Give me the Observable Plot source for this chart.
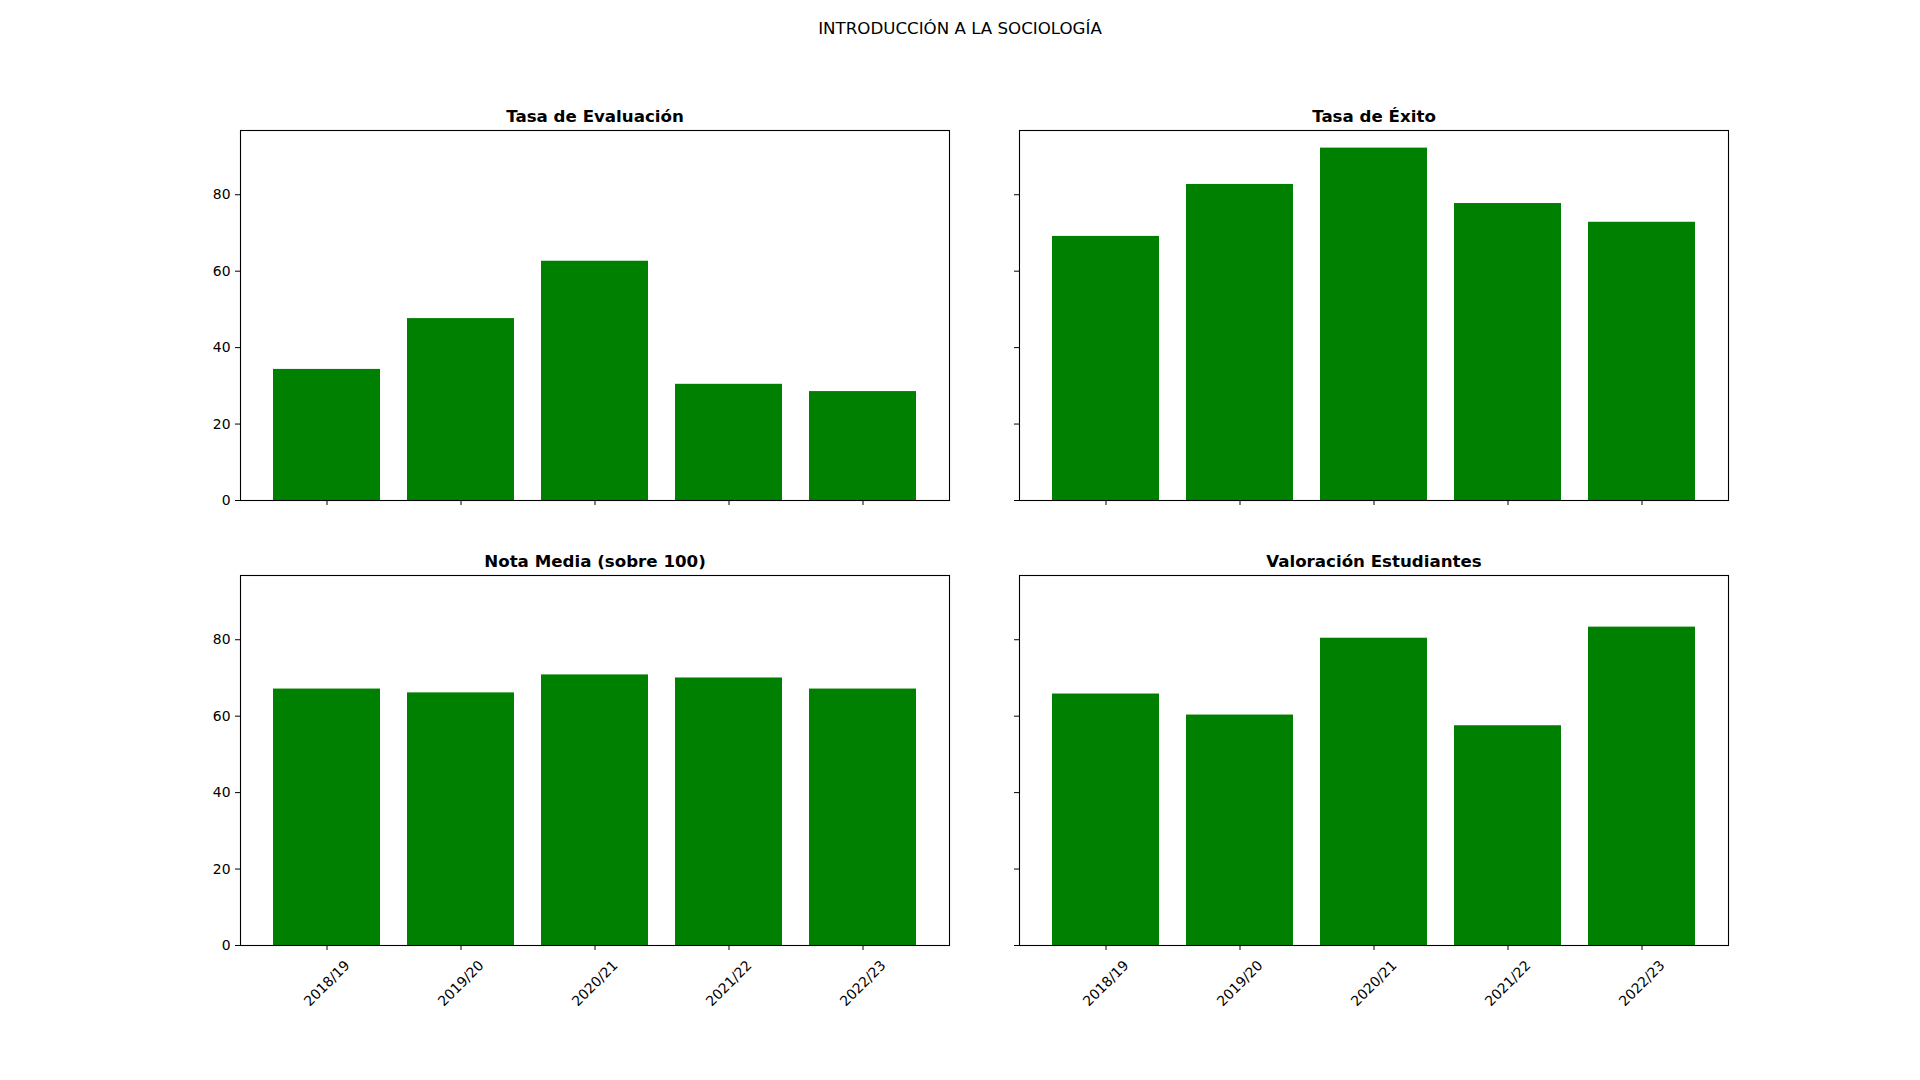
<!DOCTYPE html>
<html>
<head>
<meta charset="utf-8">
<script src="https://cdn.jsdelivr.net/npm/d3@7"></script>
<script src="https://cdn.jsdelivr.net/npm/@observablehq/plot@0.6"></script>
<style>
  html, body { margin: 0; padding: 0; background: #fff; }
  #fig { position: relative; width: 1920px; height: 1080px; background: #fff; font-family: "DejaVu Sans", sans-serif; overflow: hidden; }
  #suptitle { position: absolute; left: 0; top: 19px; width: 1920px; text-align: center; font-size: 16.67px; line-height: 20px; color: #000; }
  .panel { position: absolute; }
</style>
</head>
<body>
<div id="fig">
  <div id="suptitle">INTRODUCCIÓN A LA SOCIOLOGÍA</div>
</div>
<script>
const years = ["2018/19", "2019/20", "2020/21", "2021/22", "2022/23"];
const tasaEvaluacion = [34.3, 47.6, 62.6, 30.4, 28.5];
const tasaExito = [69.1, 82.7, 92.2, 77.7, 72.8];
const notaMedia = [67.1, 66.1, 70.8, 70.0, 67.1];
const valoracion = [65.8, 60.3, 80.4, 57.5, 83.3];
const panelTitles = ["Tasa de Evaluación", "Tasa de Éxito", "Nota Media (sobre 100)", "Valoración Estudiantes"];
const yTicks = [0, 20, 40, 60, 80];

const series = [tasaEvaluacion, tasaExito, notaMedia, valoracion];
const yMax = d3.max(series.flat()) * 1.05;

const AX_W = 709, AX_H = 370;
const ML = 70, MR = 20, MT = 40, MB = 100;
const layout = [
  {left: 240, top: 130, showY: true, showX: false},
  {left: 1019, top: 130, showY: false, showX: false},
  {left: 240, top: 575, showY: true, showX: true},
  {left: 1019, top: 575, showY: false, showX: true}
];

const fig = document.getElementById("fig");
series.forEach((vals, i) => {
  const L = layout[i];
  const data = years.map((y, j) => ({year: y, value: vals[j]}));
  const chart = Plot.plot({
    width: AX_W + ML + MR,
    height: AX_H + MT + MB,
    marginLeft: ML, marginRight: MR, marginTop: MT, marginBottom: MB,
    style: {fontFamily: "DejaVu Sans, sans-serif", fontSize: "13.9px", color: "#000", background: "transparent", overflow: "visible"},
    x: {type: "band", domain: years, paddingInner: 0.2, paddingOuter: 0.24, align: 0.5},
    y: {domain: [0, yMax]},
    marks: [
      Plot.barY(data, {x: "year", y: "value", fill: "#008000"}),
      Plot.frame({stroke: "#000", strokeWidth: 1.1}),
      Plot.axisY({ticks: yTicks, tickSize: 5, tickPadding: 5, label: null,
        tickFormat: L.showY ? (d => String(d)) : (() => "")}),
      L.showX
        ? Plot.axisX({tickSize: 5, tickRotate: -45, textAnchor: "middle", lineAnchor: "middle", tickPadding: 33, label: null})
        : Plot.axisX({tickSize: 5, label: null, tickFormat: () => ""}),
      Plot.text([panelTitles[i]], {text: d => d, frameAnchor: "top", lineAnchor: "bottom", dy: -9,
        fontWeight: "bold", fontSize: 16.67, fill: "#000"})
    ]
  });
  const div = document.createElement("div");
  div.className = "panel";
  div.style.left = (L.left - ML) + "px";
  div.style.top = (L.top - MT) + "px";
  div.appendChild(chart);
  fig.appendChild(div);
});
</script>
</body>
</html>
